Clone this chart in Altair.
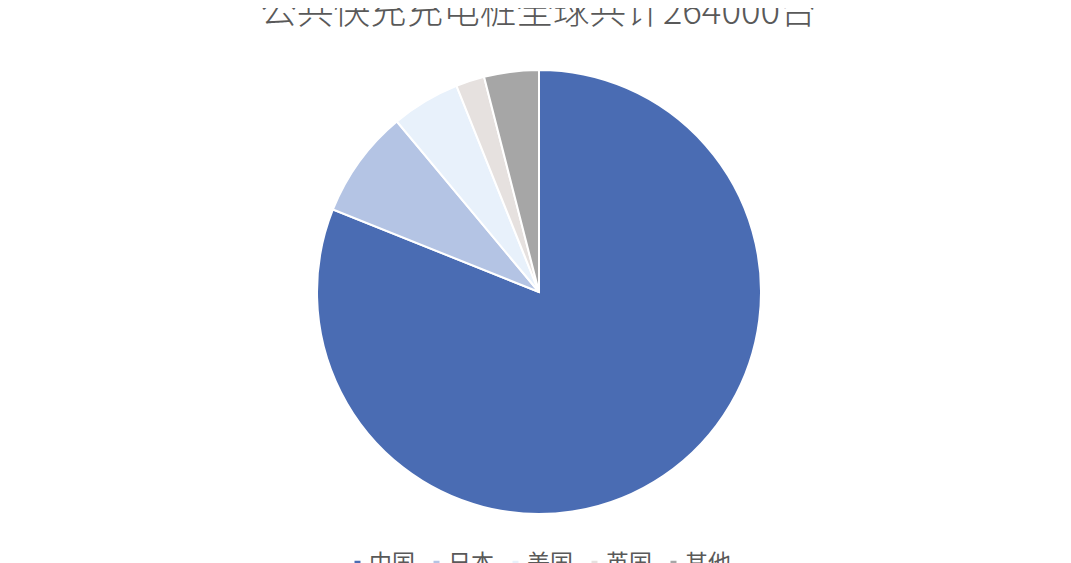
import altair as alt
import pandas as pd

categories = ["中国", "日本", "美国", "英国", "其他"]
values = [214000, 20800, 13200, 5500, 10500]
colors = ["#4A6CB3", "#B4C4E4", "#E8F1FB", "#E6E1DF", "#A6A6A6"]
title_text = "公共快充充电桩全球共计264000台"

df = pd.DataFrame({"国家": categories, "数量": values, "序号": list(range(len(categories)))})
title_df = pd.DataFrame({"标题": [title_text]})

pie = (
    alt.Chart(df)
    .mark_arc(radius=222, stroke="white", strokeWidth=2)
    .encode(
        theta=alt.Theta("数量:Q", stack=True),
        order=alt.Order("序号:O"),
        color=alt.Color(
            "国家:N",
            scale=alt.Scale(domain=categories, range=colors),
            sort=categories,
            legend=alt.Legend(
                title=None,
                orient="none",
                direction="horizontal",
                legendX=331,
                legendY=544,
                symbolType="square",
                symbolSize=36,
                symbolStrokeWidth=0,
                labelFontSize=23,
                labelFont="Noto Sans CJK SC",
                labelColor="#595959",
                labelOffset=0,
                columnPadding=10,
                padding=0,
            ),
        ),
    )
)

title = (
    alt.Chart(title_df)
    .mark_text(
        fontSize=36.6,
        font="Noto Sans CJK SC",
        fontWeight=300,
        color="#595959",
        align="center",
        baseline="alphabetic",
    )
    .encode(text="标题:N", x=alt.value(523.5), y=alt.value(16))
)

chart = (
    alt.layer(pie, title)
    .properties(
        width=1048,
        height=568,
        background="white",
        autosize=alt.AutoSizeParams(type="none"),
        padding={"left": 7, "top": 0, "right": 0, "bottom": 0},
    )
    .configure_view(stroke="transparent", strokeWidth=0)
)

chart.save("out.html", embed_options={"renderer": "svg", "actions": False})
